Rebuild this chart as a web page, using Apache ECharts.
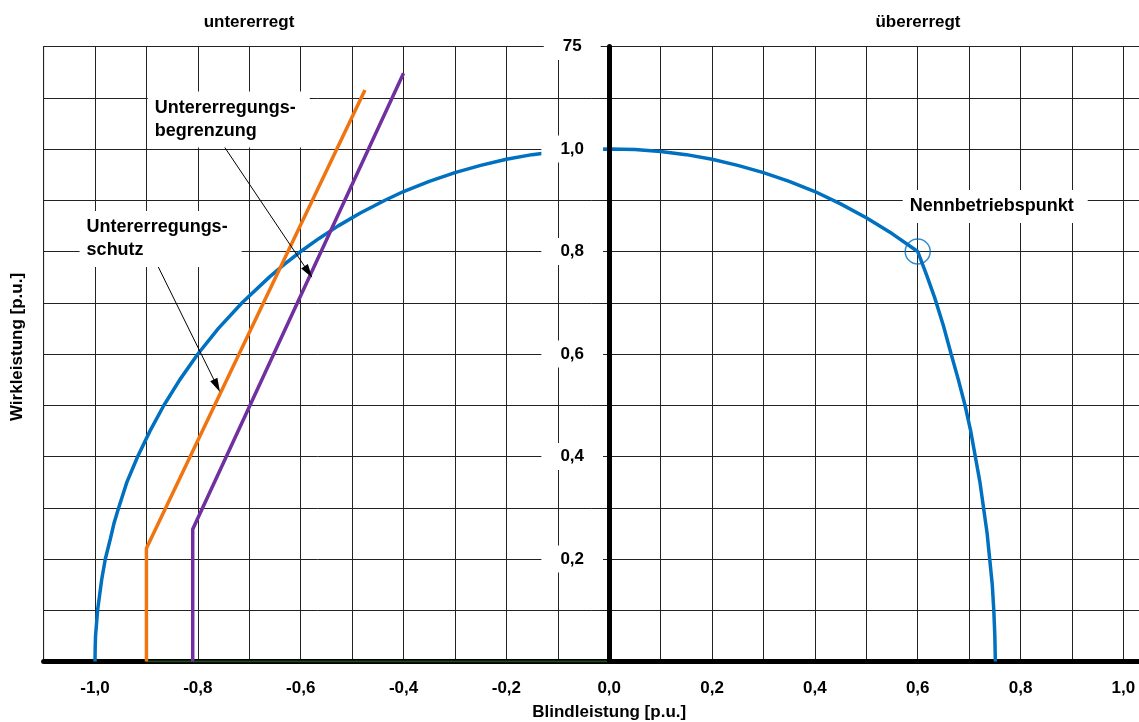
<!DOCTYPE html>
<html>
<head>
<meta charset="utf-8">
<script src="https://cdn.jsdelivr.net/npm/echarts@6/dist/echarts.min.js"></script>
<style>
  html, body { margin: 0; padding: 0; background: #fff; }
  #chart { width: 1139px; height: 722px; }
</style>
</head>
<body>
<div id="chart"></div>
<script>
const FONT = '"Liberation Sans", Arial, sans-serif';

// Q (Blindleistung) / P (Wirkleistung) in p.u.
const capabilityCurve = [
  [-1.0, 0.0], [-0.9997, 0.025], [-0.999, 0.05], [-0.997, 0.075], [-0.995, 0.1], [-0.991, 0.13],
  [-0.987, 0.16], [-0.98, 0.2], [-0.97, 0.24], [-0.963, 0.27], [-0.954, 0.3], [-0.938, 0.35],
  [-0.917, 0.4], [-0.893, 0.45], [-0.866, 0.5], [-0.835, 0.55], [-0.8, 0.6], [-0.76, 0.65],
  [-0.714, 0.7], [-0.661, 0.75], [-0.632, 0.775], [-0.6, 0.8], [-0.565, 0.825], [-0.527, 0.85],
  [-0.484, 0.875], [-0.436, 0.9], [-0.4, 0.917], [-0.35, 0.937], [-0.3, 0.954], [-0.25, 0.968],
  [-0.2, 0.98], [-0.15, 0.989], [-0.1, 0.995], [-0.05, 0.999], [0.0, 1.0], [0.05, 0.999],
  [0.1, 0.995], [0.15, 0.989], [0.2, 0.98], [0.25, 0.968], [0.3, 0.954], [0.35, 0.937],
  [0.4, 0.917], [0.45, 0.893], [0.5, 0.866], [0.55, 0.835], [0.6, 0.8],
  [0.617, 0.755], [0.633, 0.71], [0.65, 0.655], [0.665, 0.6], [0.679, 0.55], [0.692, 0.5],
  [0.703, 0.45], [0.712, 0.4], [0.721, 0.35], [0.728, 0.3], [0.735, 0.25], [0.74, 0.2],
  [0.745, 0.15], [0.748, 0.1], [0.75, 0.05], [0.751, 0.0]
];
const protectionLine = [[-0.9, 0.0], [-0.9, 0.221], [-0.475, 1.115]];
const limiterLine = [[-0.81, 0.0], [-0.81, 0.258], [-0.4, 1.148]];
const baseLine = [[-0.9, 0.0], [0.0, 0.0]];
const ratedPoint = [[0.6, 0.8]];

const xTickValues = [-1.0, -0.8, -0.6, -0.4, -0.2, 0.0, 0.2, 0.4, 0.6, 0.8, 1.0];
const xTickLabels = ['-1,0', '-0,8', '-0,6', '-0,4', '-0,2', '0,0', '0,2', '0,4', '0,6', '0,8', '1,0'];
const yTickValues = [0.2, 0.4, 0.6, 0.8, 1.0, 1.2];
const yTickLabels = ['0,2', '0,4', '0,6', '0,8', '1,0', '75'];

const annotationTexts = ['Untererregungs-\nbegrenzung', 'Untererregungs-\nschutz', 'Nennbetriebspunkt'];
const annotationAnchors = [[-0.8965, 1.111], [-1.029, 0.878], [0.5718, 0.919]];
const arrowStarts = [[-0.751, 1.008], [-0.879, 0.774]];
const arrowEnds = [[-0.585, 0.760], [-0.763, 0.538]];

function tickLabel(values, labels) {
  return (v) => {
    const i = values.findIndex((t) => Math.abs(t - v) < 1e-6);
    return i < 0 ? '' : labels[i];
  };
}

const boldText = { fontFamily: FONT, fontWeight: 'bold', color: '#000' };

const chart = echarts.init(document.getElementById('chart'), null, { renderer: 'canvas' });

const gridLeft = 43.6;
const gridRight = -35.8;
const xMin = -1.1;
const xMax = 1.1;
// the label axis sits on Q = 0, so shift it right from the grid's left edge
const zeroOffset = ((0 - xMin) / (xMax - xMin)) * (1139 - gridLeft - gridRight);

chart.setOption({
  animation: false,
  backgroundColor: '#fff',
  graphic: [
    { type: 'text', x: 249, y: 22, style: { text: 'untererregt', align: 'center', verticalAlign: 'middle', font: 'bold 17px ' + FONT, fill: '#000' } },
    { type: 'text', x: 918, y: 22, style: { text: 'übererregt', align: 'center', verticalAlign: 'middle', font: 'bold 17px ' + FONT, fill: '#000' } },
  ],
  grid: {
    left: gridLeft,
    top: 46.5,
    right: gridRight,
    bottom: 60.5,
    show: true,
    borderColor: '#000',
    borderWidth: 1,
    backgroundColor: 'transparent',
    containLabel: false,
    outerBoundsMode: 'none',
  },
  xAxis: {
    type: 'value',
    min: xMin,
    max: xMax,
    interval: 0.1,
    name: 'Blindleistung [p.u.]',
    nameLocation: 'middle',
    nameGap: 42,
    nameMoveOverlap: false,
    nameTextStyle: { ...boldText, fontSize: 17 },
    axisLine: { show: true, onZero: true, lineStyle: { color: '#000', width: 5 } },
    axisTick: { show: false },
    axisLabel: { ...boldText, fontSize: 17, margin: 18, formatter: tickLabel(xTickValues, xTickLabels) },
    splitLine: { show: true, lineStyle: { color: '#222', width: 1 } },
  },
  yAxis: [
    {
      type: 'value',
      min: 0,
      max: 1.2,
      interval: 0.1,
      position: 'left',
      name: 'Wirkleistung [p.u.]',
      nameLocation: 'middle',
      nameGap: 18,
      nameMoveOverlap: false,
      nameTextStyle: { ...boldText, fontSize: 17, padding: [0, 0, 0, 14] },
      axisLine: { show: false, onZero: false },
      axisTick: { show: false },
      axisLabel: { show: false },
      splitLine: { show: true, lineStyle: { color: '#222', width: 1 } },
    },
    {
      type: 'value',
      min: 0,
      max: 1.2,
      interval: 0.2,
      position: 'left',
      offset: -zeroOffset,
      z: 10,
      axisLine: { show: true, onZero: false, lineStyle: { color: '#000', width: 5 } },
      axisTick: { show: false },
      splitLine: { show: false },
      axisLabel: {
        ...boldText,
        fontSize: 17,
        align: 'center',
        margin: 37,
        backgroundColor: '#fff',
        padding: [5, 19],
        showMinLabel: false,
        formatter: tickLabel(yTickValues, yTickLabels),
      },
    },
  ],
  series: [
    {
      name: 'Grundlinie',
      type: 'line',
      data: baseLine,
      showSymbol: false,
      lineStyle: { color: '#1d4a22', width: 2 },
      z: 3,
    },
    {
      name: 'Leistungsgrenze',
      type: 'line',
      data: capabilityCurve,
      showSymbol: false,
      smooth: false,
      lineStyle: { color: '#0070C0', width: 3.5 },
    },
    {
      name: 'Untererregungsschutz',
      type: 'line',
      data: protectionLine,
      showSymbol: false,
      lineStyle: { color: '#F07511', width: 3.5 },
    },
    {
      name: 'Untererregungsbegrenzung',
      type: 'line',
      data: limiterLine,
      showSymbol: false,
      lineStyle: { color: '#7030A0', width: 3.5 },
    },
    {
      name: 'Nennbetriebspunkt',
      type: 'scatter',
      data: ratedPoint,
      symbol: 'circle',
      symbolSize: 25,
      itemStyle: { color: 'transparent', borderColor: '#0070C0', borderWidth: 1.5 },
      z: 4,
    },
    {
      name: 'Beschriftung',
      type: 'scatter',
      data: annotationAnchors,
      symbolSize: 1,
      itemStyle: { color: 'transparent' },
      z: 20,
      label: {
        show: true,
        position: [0, 0],
        align: 'left',
        verticalAlign: 'top',
        ...boldText,
        fontSize: 18,
        lineHeight: 23,
        textBorderWidth: 0,
        textBorderColor: 'transparent',
        opacity: 1,
        backgroundColor: '#fff',
        padding: [5, 14, 5, 7],
        formatter: (p) => annotationTexts[p.dataIndex],
      },
      markLine: {
        silent: true,
        symbol: ['none', 'triangle'],
        symbolSize: [8, 14],
        label: { show: false },
        lineStyle: { color: '#000', width: 1, type: 'solid' },
        data: arrowStarts.map((s, i) => [{ coord: s }, { coord: arrowEnds[i] }]),
      },
    },
  ],
});
</script>
</body>
</html>
